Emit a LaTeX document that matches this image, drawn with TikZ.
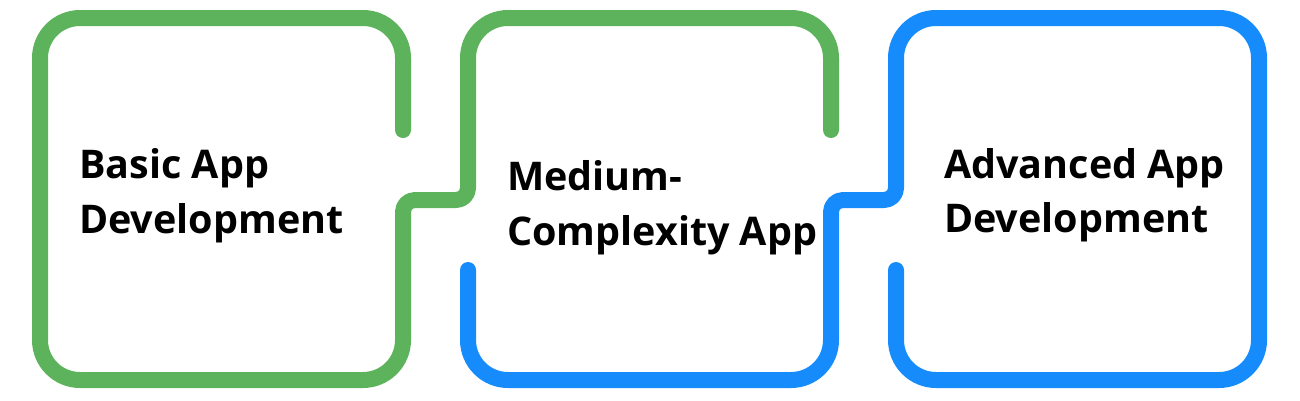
\documentclass[tikz,border=0pt]{standalone}
\usepackage{fontspec}
\setmainfont{Open Sans}
\definecolor{boxgreen}{HTML}{5CB35B}
\definecolor{boxblue}{HTML}{158BFC}
\tikzset{
  frame/.style={line width=16pt, line cap=round, line join=round},
  label/.style={anchor=base west, inner sep=0pt, font=\fontsize{39.5}{56}\selectfont\bfseries, align=left}
}
\begin{document}
\begin{tikzpicture}[x=1pt,y=-1pt]
\useasboundingbox (0,0) rectangle (1300,400);
\draw[frame, boxgreen, rounded corners=40pt]
  (403,130) -- (403,18) -- (40,18) -- (40,380) -- (403,380)
  [rounded corners=12pt] -- (403,200) -- (468,200)
  [rounded corners=40pt] -- (468,18) -- (831,18) -- (831,130);
\draw[frame, boxblue, rounded corners=40pt]
  (468,270) -- (468,380) -- (831,380)
  [rounded corners=12pt] -- (831,200) -- (896,200)
  [rounded corners=40pt] -- (896,18) -- (1259,18) -- (1259,380) -- (896,380) -- (896,270);
\node[label] (t1a) at (79,178) {Basic App};
\node[label] (t1b) at (79,233) {Development};
\node[label] (t2a) at (507,190) {Medium-};
\node[label] (t2b) at (507,245) {Complexity App};
\node[label] (t3a) at (944,178) {Advanced App};
\node[label] (t3b) at (944,232) {Development};
\end{tikzpicture}
\end{document}
